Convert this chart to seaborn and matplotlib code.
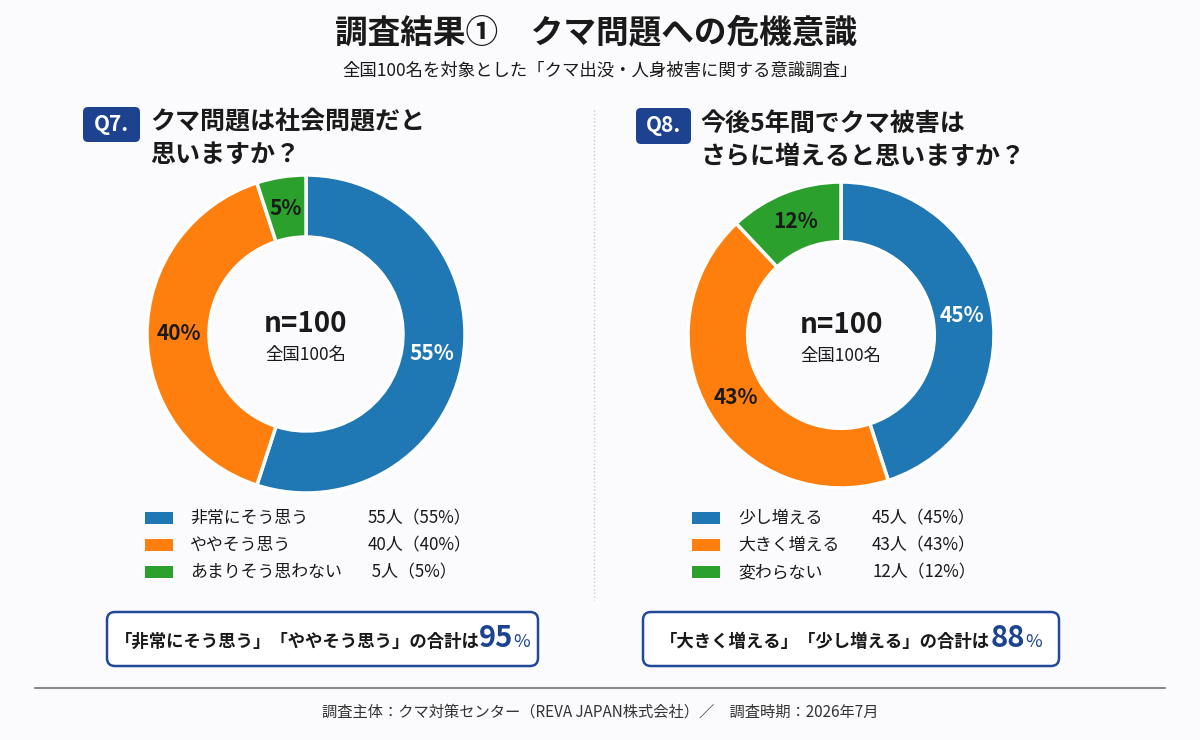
import matplotlib
matplotlib.use('Agg')
import matplotlib.pyplot as plt
import seaborn as sns
from matplotlib.patches import FancyBboxPatch, Rectangle

# data
q7_labels = ['非常にそう思う', 'ややそう思う', 'あまりそう思わない']
q7_values = [55, 40, 5]
q7_counts = ['55人（55%）', '40人（40%）', ' 5人（5%）']
q8_labels = ['少し増える', '大きく増える', '変わらない']
q8_values = [45, 43, 12]
q8_counts = ['45人（45%）', '43人（43%）', '12人（12%）']

title = '調査結果①　クマ問題への危機意識'
subtitle = '全国100名を対象とした「クマ出没・人身被害に関する意識調査」'
q7_title = ['クマ問題は社会問題だと', '思いますか？']
q8_title = ['今後5年間でクマ被害は', 'さらに増えると思いますか？']
q7_sum_text = '「非常にそう思う」「ややそう思う」の合計は'
q7_sum = '95'
q8_sum_text = '「大きく増える」「少し増える」の合計は'
q8_sum = '88'
footer = '調査主体：クマ対策センター（REVA JAPAN株式会社）／　調査時期：2026年7月'

sns.set_theme(style='white')
plt.rcParams['font.family'] = ['Noto Sans CJK JP', 'DejaVu Sans']

palette = sns.color_palette('tab10')[:3]
navy = '#1d4290'
dark = '#1a1a1a'
bg = '#fbfbfd'

W, H = 1200, 740
fig = plt.figure(figsize=(12, 7.4), dpi=100, facecolor=bg)
ax = fig.add_axes([0, 0, 1, 1])
ax.set_xlim(0, W)
ax.set_ylim(H, 0)
ax.axis('off')
ax.set_facecolor('none')


def donut(cx, cy, r, values, label_colors):
    a = fig.add_axes([(cx - r) / W, (H - cy - r) / H, 2 * r / W, 2 * r / H])
    a.set_facecolor('none')
    wedges, _, autotexts = a.pie(
        values, colors=palette, startangle=90, counterclock=False,
        radius=1, wedgeprops=dict(width=0.39, edgecolor='white', linewidth=2.5),
        autopct=lambda p: f'{p:.0f}%', pctdistance=0.8,
        textprops=dict(fontsize=15, fontweight='bold'))
    for t, c in zip(autotexts, label_colors):
        t.set_color(c)
    a.set_xlim(-1, 1)
    a.set_ylim(-1, 1)
    a.set_aspect('equal')
    a.axis('off')
    ax.text(cx, cy - 10, 'n=100', ha='center', va='center', fontsize=20,
            fontweight='bold', color=dark)
    ax.text(cx, cy + 21, '全国100名', ha='center', va='center', fontsize=12.5,
            color=dark)


donut(306, 334, 159, q7_values, ['white', dark, dark])
donut(841, 335, 153, q8_values, ['white', dark, dark])

# titles
ax.text(596, 33, title, ha='center', va='center', fontsize=23.5,
        fontweight='bold', color=dark)
ax.text(600, 71, subtitle, ha='center', va='center', fontsize=12.5,
        color=dark)


def badge(x, y, w, h, s):
    ax.add_patch(FancyBboxPatch((x, y), w, h,
                                boxstyle='round,pad=0,rounding_size=5',
                                facecolor=navy, edgecolor='none'))
    ax.text(x + w / 2, y + h / 2, s, ha='center', va='center', fontsize=15,
            fontweight='bold', color='white')


badge(83, 107, 57, 35, 'Q7.')
badge(636, 108, 55, 36, 'Q8.')
for i, line in enumerate(q7_title):
    ax.text(150, 122 + i * 33, line, ha='left', va='center', fontsize=18,
            fontweight='bold', color=dark)
for i, line in enumerate(q8_title):
    ax.text(700, 124 + i * 33, line, ha='left', va='center', fontsize=18,
            fontweight='bold', color=dark)

# separator
ax.plot([594, 594], [110, 600], ls=':', color='#c8c8cc', lw=1)


def legend(x_patch, x_label, x_count, labels, counts):
    for i, (lab, cnt) in enumerate(zip(labels, counts)):
        y = 518 + i * 27
        ax.add_patch(Rectangle((x_patch, y - 6), 28, 12, facecolor=palette[i],
                               edgecolor='none'))
        ax.text(x_label, y, lab, ha='left', va='center', fontsize=12.2,
                color=dark)
        ax.text(x_count, y, cnt, ha='left', va='center', fontsize=12.2,
                color=dark)


legend(145, 190, 368, q7_labels, q7_counts)
legend(692, 738, 872, q8_labels, q8_counts)

renderer = fig.canvas.get_renderer()


def summary(x, y, w, h, s, num):
    ax.add_patch(FancyBboxPatch((x, y), w, h,
                                boxstyle='round,pad=0,rounding_size=8',
                                facecolor='white', edgecolor='#24489a', lw=1.8))
    parts = [(s, 12.5, dark, 'bold'), (num, 21, navy, 'bold'),
             ('%', 13, navy, 'normal')]
    widths = []
    for txt, fs, c, fw in parts:
        t = ax.text(0, 0, txt, fontsize=fs, fontweight=fw)
        bb = t.get_window_extent(renderer=renderer)
        widths.append(bb.width)
        t.remove()
    total = sum(widths)
    cx = x + w / 2 - total / 2
    base = y + h / 2 + 8
    for (txt, fs, c, fw), wd in zip(parts, widths):
        ax.text(cx, base, txt, ha='left', va='baseline', fontsize=fs,
                fontweight=fw, color=c)
        cx += wd


summary(107, 612, 431, 54, q7_sum_text, q7_sum)
summary(643, 612, 416, 54, q8_sum_text, q8_sum)

# footer
ax.plot([35, 1165], [688, 688], color='#8a8a8a', lw=1.5)
ax.text(600, 712, footer, ha='center', va='center', fontsize=11, color='#333333')

fig.savefig('out.png', dpi=100, facecolor=bg)
